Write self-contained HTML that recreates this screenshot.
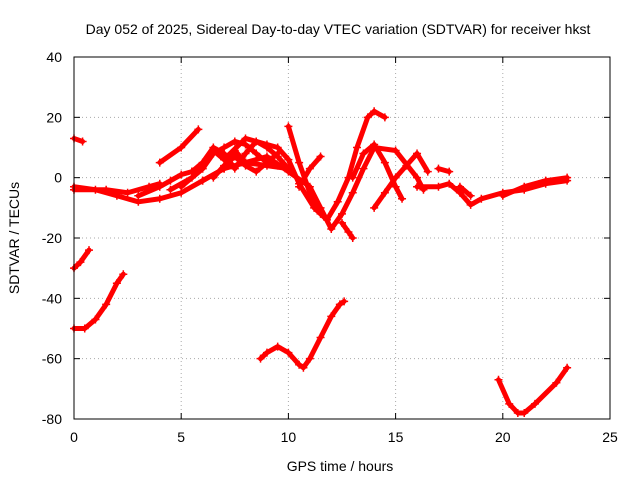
<!DOCTYPE html>
<html><head><meta charset="utf-8"><style>
body{margin:0;background:#fff}
svg text{font-family:"Liberation Sans",sans-serif;font-size:14px;fill:#000}
</style></head><body>
<svg id="chart" width="640" height="480">
<rect x="0" y="0" width="640" height="480" fill="#fff"/>
<text x="338" y="34" text-anchor="middle">Day 052 of 2025, Sidereal Day-to-day VTEC variation (SDTVAR) for receiver hkst</text>
<text x="340" y="471" text-anchor="middle">GPS time / hours</text>
<text transform="translate(19,238) rotate(-90)" text-anchor="middle">SDTVAR / TECUs</text>
<g id="grid"></g><g id="marks"></g>
<rect x="74" y="57" width="536" height="362" fill="none" stroke="#000"/>
</svg>
<script>
const xTicks=[0,5,10,15,20,25];
const yTicks=[40,20,0,-20,-40,-60,-80];
const trackA=[[0,13],[0.4,12]];
const trackB=[[0,-30],[0.3,-28],[0.7,-24]];
const trackC=[[0,-50],[0.5,-50],[1,-47],[1.5,-42],[2,-35],[2.3,-32]];
const trackD=[[8.7,-60],[9,-58],[9.5,-56],[10,-58],[10.5,-62],[10.7,-63],[11,-60],[11.5,-53],[12,-46],[12.4,-42],[12.6,-41]];
const trackE=[[19.8,-67],[20.3,-75],[20.7,-78],[21,-78],[21.5,-75],[22.5,-68],[23,-63]];
const trackF=[[0,-3],[1,-4],[2,-6],[3,-8],[4,-7],[5,-5],[6,-1],[7,3],[8,5],[9,4],[10,3]];
const trackG=[[0,-4],[1.5,-4],[2.5,-5],[3.5,-3],[4,-2]];
const trackH=[[4,5],[5,10],[5.8,16]];
const trackI=[[5,-3],[6,3],[6.5,9],[7,6],[8,13],[8.5,12],[9,11],[9.5,10],[10,6],[10.5,-2],[11.2,-10],[11.8,-14],[12.3,-8],[12.8,0],[13.2,10],[13.7,20],[14,22],[14.5,20]];
const trackJ=[[6,-1],[7,3],[7.5,9],[8,5],[9,7],[10,2],[11,-3],[11.5,-10],[12,-17],[12.5,-12],[13,-5],[13.5,3],[14,10],[15,9],[16,0],[16.3,-4]];
const trackK=[[10,17],[10.5,5],[11,-5],[11.5,-12]];
const trackL=[[10.5,-3],[11,3],[11.5,7]];
const trackM=[[12.5,-15],[12.8,-18],[13,-20]];
const trackN=[[13,0],[13.5,8],[14,11],[14.5,5],[15,-3],[15.3,-7]];
const trackO=[[14,-10],[14.5,-5],[15,0],[15.5,4],[16,8],[16.5,2]];
const trackP=[[16,-3],[17,-3],[17.5,-2],[18,-5],[18.5,-9],[19,-7],[20,-5],[21,-4],[22,-2],[23,-1]];
const trackQ=[[17,3],[17.5,2]];
const trackR=[[20,-6],[21,-3],[22,-1],[23,0]];
const trackS=[[18,-3],[18.5,-6]];
const trackT=[[4.5,-4],[5.5,0],[6,3],[6.5,8],[7,10],[7.5,12],[8,11],[8.5,8],[9,5],[9.5,4]];
const trackU=[[5.5,2],[6,5],[6.5,10],[7,8],[7.5,3],[8,8],[8.5,12],[9,10],[9.5,7],[10,3]];
const trackV=[[6.5,0],[7,4],[7.5,7],[8,4],[8.5,2],[9,5],[9.5,8]];
const trackW=[[3,-6],[4,-3],[4.5,-1],[5,1],[5.5,2]];
const tracks=[trackA,trackB,trackC,trackD,trackE,trackF,trackG,trackH,trackI,trackJ,trackK,trackL,trackM,trackN,trackO,trackP,trackQ,trackR,trackS,trackT,trackU,trackV,trackW];
const X=v=>74+v*(536/25), Y=v=>57+(40-v)*(362/120);
const NS="http://www.w3.org/2000/svg";
const grid=document.getElementById('grid'), marks=document.getElementById('marks');
function mk(tag,attrs,parent){const e=document.createElementNS(NS,tag);for(const k in attrs)e.setAttribute(k,attrs[k]);parent.appendChild(e);return e;}
xTicks.forEach(t=>{
  if(t>0&&t<25){const g=mk('line',{x1:X(t),x2:X(t),y1:57,y2:419,stroke:'#aaa','stroke-dasharray':'1,3'},grid);
  
  }
  const tx=mk('text',{x:X(t),y:442,'text-anchor':'middle'},grid);tx.textContent=t;
  
  
  mk('line',{x1:X(t),x2:X(t),y1:419,y2:413,stroke:'#000'},grid);
  mk('line',{x1:X(t),x2:X(t),y1:57,y2:63,stroke:'#000'},grid);
});
yTicks.forEach(t=>{
  if(t<40&&t>-80){const g=mk('line',{x1:74,x2:610,y1:Y(t),y2:Y(t),stroke:'#aaa','stroke-dasharray':'1,3'},grid);
  
  }
  const tx=mk('text',{x:62,y:Y(t)+5,'text-anchor':'end'},grid);tx.textContent=t;
  
  
  mk('line',{x1:74,x2:80,y1:Y(t),y2:Y(t),stroke:'#000'},grid);
  mk('line',{x1:610,x2:604,y1:Y(t),y2:Y(t),stroke:'#000'},grid);
});
tracks.forEach(tr=>{
  const p=mk('polyline',{points:tr.map(d=>X(d[0])+','+Y(d[1])).join(' '),fill:'none',stroke:'#f00','stroke-width':5,'stroke-linejoin':'round','stroke-linecap':'round'},marks);
  
  
  tr.forEach(d=>{
    const m=mk('path',{d:`M${X(d[0])-4},${Y(d[1])}h8M${X(d[0])},${Y(d[1])-4}v8`,stroke:'#f00','stroke-width':1.5},marks);
    
    
  });
});
</script>
</body></html>
